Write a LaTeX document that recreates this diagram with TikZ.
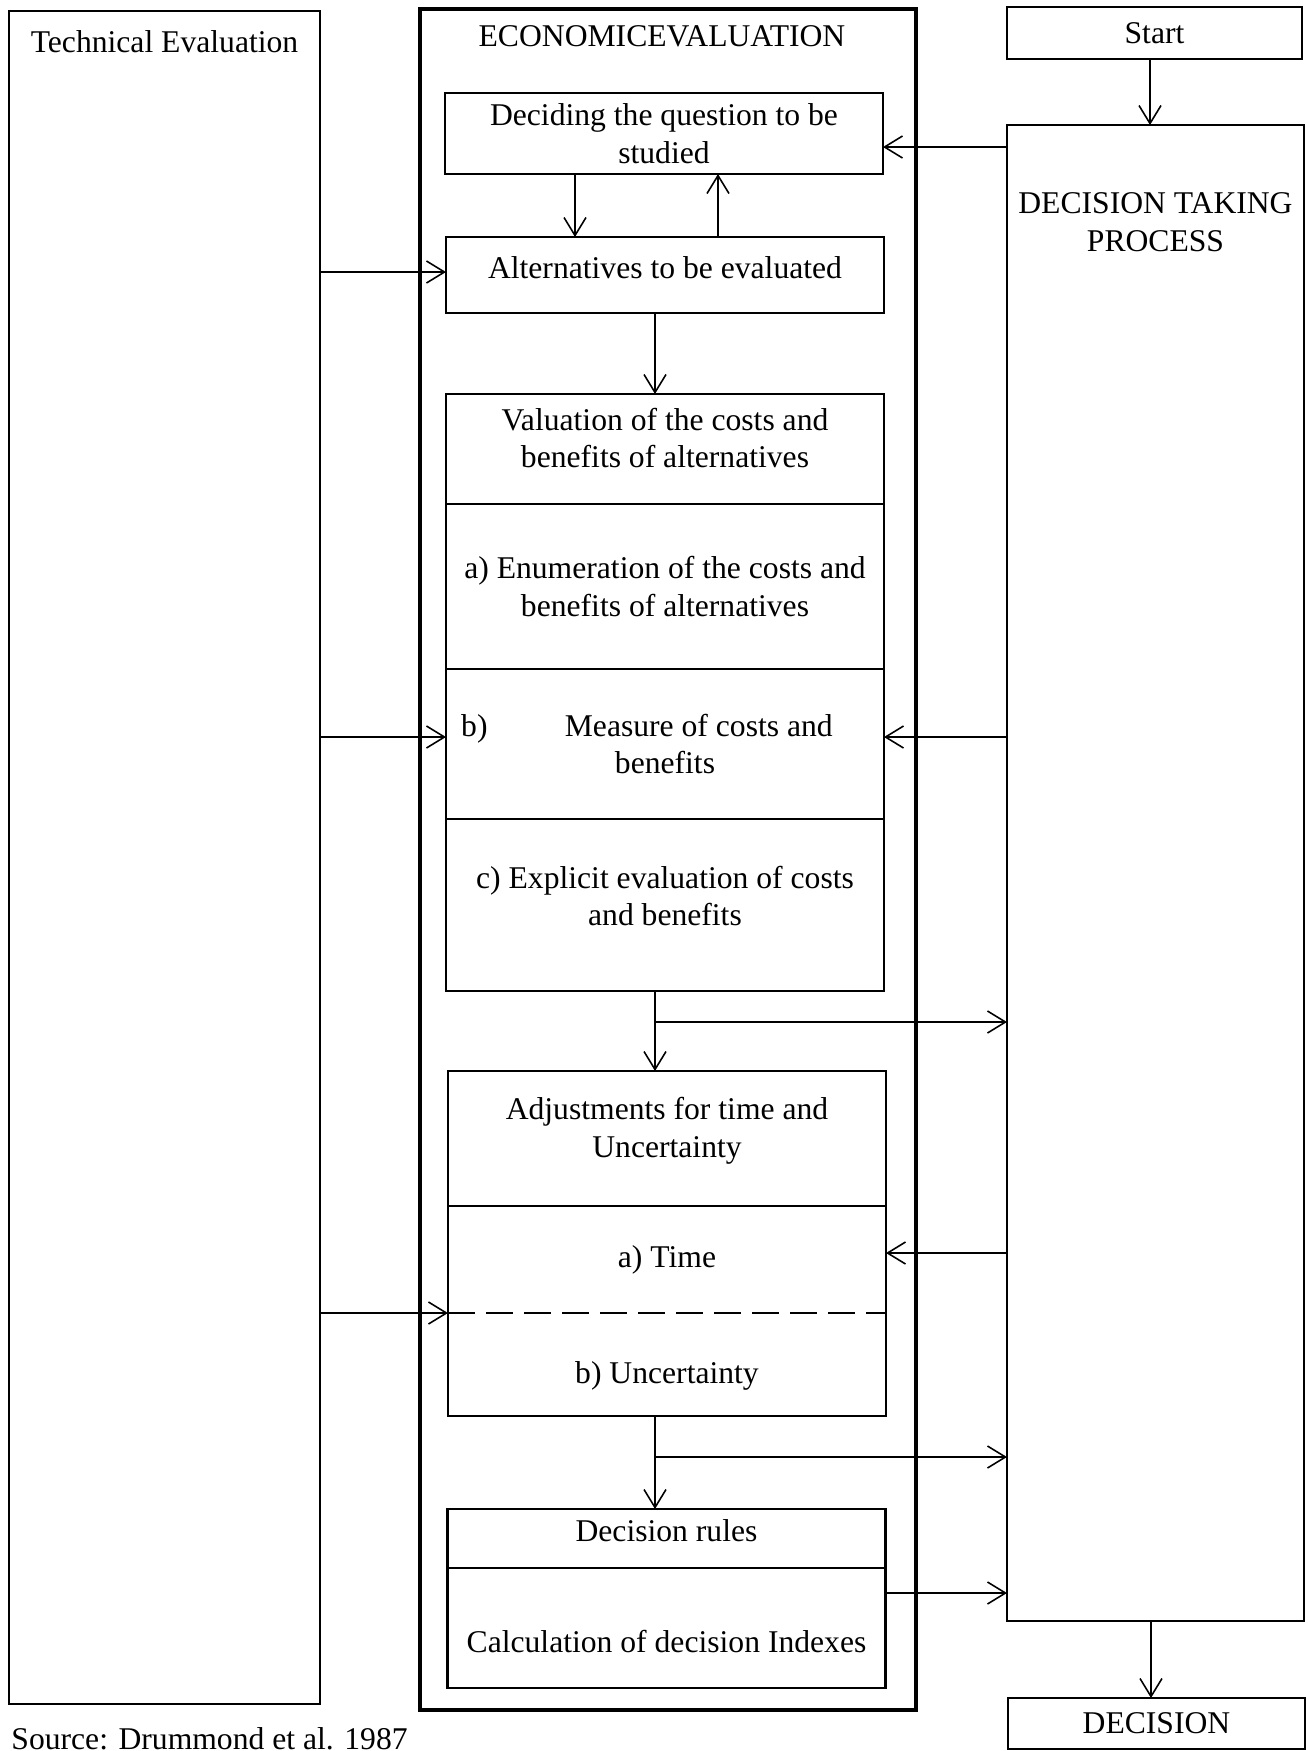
\documentclass[tikz,border=0pt]{standalone}
\usepackage{fontspec}
\setmainfont{Liberation Serif}
\usetikzlibrary{arrows.meta, positioning}

\begin{document}
\begin{tikzpicture}[
    >={Straight Barb[length=1.8mm, width=2.2mm]},
    every node/.style={font=\fontsize{9}{10.8}\selectfont},
    frame/.style={draw, line width=0.6pt, outer sep=0pt},
    cell/.style={outer sep=0pt, minimum width=4.38cm, align=center, inner sep=0pt},
    part/.style={cell, draw, line width=0.8pt},
    link/.style={->, line width=0.45pt}
]
    \useasboundingbox (0,0) rectangle (13.08,-17.51);

    \node[frame, minimum width=3.11cm, minimum height=16.93cm,
        label={[anchor=center, yshift=-0.31cm]north:Technical Evaluation}] (tech) at (1.645,-8.575) {};
    \node[draw, line width=1.4pt, outer sep=0pt, minimum width=4.96cm, minimum height=17.01cm,
        label={[anchor=center, yshift=-0.27cm, xshift=-0.06cm]north:ECONOMICEVALUATION}] (eco) at (6.68,-8.595) {};
    \node[frame, minimum width=2.95cm, minimum height=0.52cm] (start) at (11.545,-0.33) {Start};
    \node[frame, minimum width=2.97cm, minimum height=14.96cm,
        label={[anchor=center, align=center, yshift=-0.975cm]north:DECISION TAKING\\PROCESS}] (dtp) at (11.555,-8.73) {};
    \node[frame, minimum width=2.97cm, minimum height=0.51cm] (decision) at (11.565,-17.235) {DECISION};

    \node[part, minimum height=0.81cm] (decide) at (6.64,-1.335) {Deciding the question to be\\studied};
    \node[part, minimum height=0.76cm, text depth=4.5pt] (alt) at (6.65,-2.75) {Alternatives to be evaluated};

    \node[part, minimum height=1.10cm,
        label={[align=center, yshift=0.11cm]center:Valuation of the costs and\\benefits of alternatives}] (valhead) at (6.65,-4.49) {};
    \node[part, minimum height=1.65cm, below=0pt of valhead] (valA) {a) Enumeration of the costs and\\benefits of alternatives};
    \node[part, minimum height=1.50cm, below=0pt of valA] (valB) {b)\hspace{22pt}Measure of costs and\hspace*{0.36cm}\\benefits};
    \node[part, minimum height=1.72cm, below=0pt of valB,
        label={[align=center, yshift=0.09cm]center:c) Explicit evaluation of costs\\and benefits}] (valC) {};

    \node[part, minimum height=1.35cm,
        label={[align=center, yshift=0.08cm]center:Adjustments for time and\\Uncertainty}] (adjhead) at (6.67,-11.385) {};
    \node[cell, minimum height=1.07cm, below=0pt of adjhead] (adjT) {a) Time};
    \node[cell, minimum height=1.03cm, below=0pt of adjT, text height=13pt] (adjU) {b) Uncertainty};
    \draw[line width=0.8pt] (adjT.north west) -- (adjU.south west) -- (adjU.south east) -- (adjT.north east);
    \draw[line width=0.8pt, dash pattern=on 0.27cm off 0.11cm] (adjT.south west) -- (adjT.south east);

    \node[part, minimum height=0.59cm, text depth=4.5pt] (ruleshead) at (6.665,-15.385) {Decision rules};
    \node[part, minimum height=1.20cm, below=0pt of ruleshead, text height=14pt] (calc) {Calculation of decision Indexes};

    \node[anchor=base west] (source) at (-0.01,-17.49) {Source: Drummond et al. 1987};

    \coordinate (split1) at (6.55,-10.22);
    \coordinate (split2) at (6.55,-14.57);

    \draw[link] (start.south -| 11.5,0) -- (dtp.north -| 11.5,0);
    \draw[link] (dtp.west |- 0,-1.47) -- (decide.east |- 0,-1.47);
    \draw[link] (decide.south -| 5.75,0) -- (alt.north -| 5.75,0);
    \draw[link] (alt.north -| 7.18,0) -- (decide.south -| 7.18,0);
    \draw[link] (tech.east |- 0,-2.72) -- (alt.west |- 0,-2.72);
    \draw[link] (alt.south -| 6.55,0) -- (valhead.north -| 6.55,0);
    \draw[link] (tech.east |- 0,-7.37) -- (valB.west |- 0,-7.37);
    \draw[link] (dtp.west |- 0,-7.37) -- (valB.east |- 0,-7.37);
    \draw[link] (valC.south -| split1) -- (adjhead.north -| split1);
    \draw[link] (split1) -- (split1 -| dtp.west);
    \draw[link] (dtp.west |- 0,-12.53) -- (adjT.east |- 0,-12.53);
    \draw[link] (tech.east |- adjT.south west) -- (adjT.south west);
    \draw[link] (adjU.south -| split2) -- (ruleshead.north -| split2);
    \draw[link] (split2) -- (split2 -| dtp.west);
    \draw[link] (calc.east |- 0,-15.93) -- (dtp.west |- 0,-15.93);
    \draw[link] (dtp.south -| 11.51,0) -- (decision.north -| 11.51,0);
\end{tikzpicture}
\end{document}
